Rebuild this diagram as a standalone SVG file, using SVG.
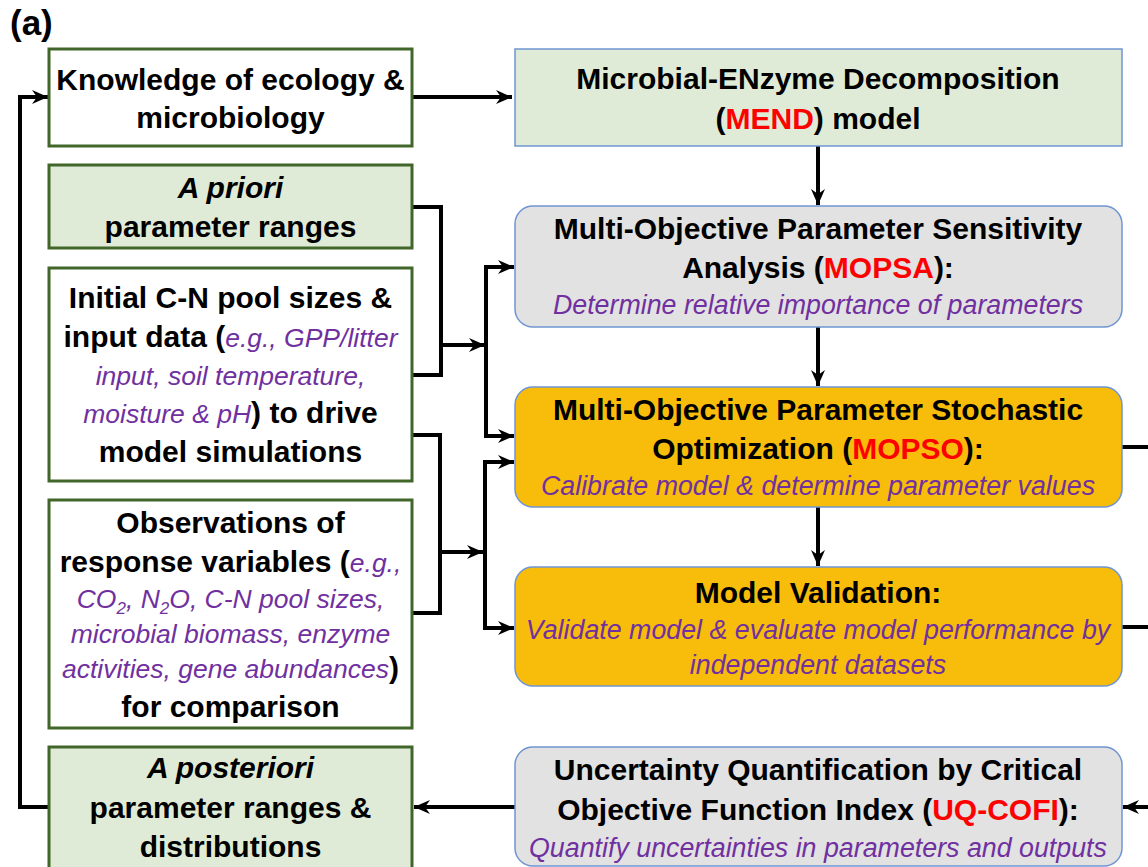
<svg xmlns="http://www.w3.org/2000/svg" width="1148" height="867" viewBox="0 0 1148 867">
<style>
text{font-family:"Liberation Sans",Arial,sans-serif;text-anchor:middle}
.b{font-weight:bold;font-size:30px;fill:#000}
.i{font-style:italic;font-weight:normal;font-size:26.5px;fill:#7030a0}
.bi{font-style:italic;font-weight:bold}
.r{fill:#ff0000}
.k{fill:#000;font-style:normal;font-weight:bold;font-size:30px}
.lg{fill:#ffffff;stroke:#41662a;stroke-width:3}
.lgg{fill:#dfebd6;stroke:#41662a;stroke-width:3}
.rb{stroke:#6f95d3;stroke-width:1.5}
.c{fill:none;stroke:#000;stroke-width:4}
</style>
<defs>
<marker id="ah" markerUnits="userSpaceOnUse" viewBox="0 0 16 14" refX="16" refY="7" markerWidth="16" markerHeight="14" orient="auto">
<path d="M0,0 L16,7 L0,14 L5,7 z" fill="#000"/>
</marker>
</defs>
<text x="10" y="35" style="text-anchor:start;font-weight:bold;font-size:35px">(a)</text>
<g id="connectors">
<path class="c" d="M413,97 H512" marker-end="url(#ah)"/>
<path class="c" d="M49,807 H20 V97 H48" marker-end="url(#ah)"/>
<path class="c" d="M818,146 V205" marker-end="url(#ah)"/>
<path class="c" d="M818,327 V386" marker-end="url(#ah)"/>
<path class="c" d="M818,507 V566" marker-end="url(#ah)"/>
<path class="c" d="M412,207 H441 V375 H412"/>
<path class="c" d="M441,345 H485" marker-end="url(#ah)"/>
<path class="c" d="M486,300 V267 H514" marker-end="url(#ah)"/>
<path class="c" d="M486,300 V436 H514" marker-end="url(#ah)"/>
<path class="c" d="M412,435 H440 V613 H412"/>
<path class="c" d="M440,552 H483" marker-end="url(#ah)"/>
<path class="c" d="M485,540 V462 H514" marker-end="url(#ah)"/>
<path class="c" d="M485,540 V628 H514" marker-end="url(#ah)"/>
<path class="c" d="M1122,447 H1150"/>
<path class="c" d="M1122,627 H1150"/>
<path class="c" d="M1150,807 H1123" marker-end="url(#ah)"/>
<path class="c" d="M515,807 H414" marker-end="url(#ah)"/>
</g>
<g id="knowledge">
<rect class="lg" x="49" y="49" width="363" height="97"/>
<text x="230.5" y="90" class="b">Knowledge of ecology &amp;</text>
<text x="230.5" y="128" class="b">microbiology</text>
</g>
<g id="apriori">
<rect class="lgg" x="49" y="165" width="363" height="83"/>
<text x="230.5" y="198" class="b bi">A priori</text>
<text x="230.5" y="237" class="b">parameter ranges</text>
</g>
<g id="initial">
<rect class="lg" x="49" y="268" width="363" height="213"/>
<text x="230.5" y="308" class="b">Initial C-N pool sizes &amp;</text>
<text x="230.5" y="347" class="b">input data (<tspan class="i">e.g., GPP/litter</tspan></text>
<text x="230.5" y="385" class="i">input, soil temperature,</text>
<text x="230.5" y="423" class="i">moisture &amp; pH<tspan class="k">) to drive</tspan></text>
<text x="230.5" y="462" class="b">model simulations</text>
</g>
<g id="observations">
<rect class="lg" x="49" y="500" width="363" height="228"/>
<text x="230.5" y="533" class="b">Observations of</text>
<text x="230.5" y="572" class="b">response variables (<tspan class="i">e.g.,</tspan></text>
<text x="230.5" y="608" class="i">CO<tspan font-size="17" dy="6">2</tspan><tspan dy="-6">, N</tspan><tspan font-size="17" dy="6">2</tspan><tspan dy="-6">O, C-N pool sizes,</tspan></text>
<text x="230.5" y="643" class="i">microbial biomass, enzyme</text>
<text x="230.5" y="678" class="i">activities, gene abundances<tspan class="k">)</tspan></text>
<text x="230.5" y="717" class="b">for comparison</text>
</g>
<g id="aposteriori">
<rect class="lgg" x="49" y="747" width="363" height="130"/>
<text x="230.5" y="778" class="b bi">A posteriori</text>
<text x="230.5" y="818" class="b">parameter ranges &amp;</text>
<text x="230.5" y="857" class="b">distributions</text>
</g>
<g id="mend">
<rect class="rb" x="515" y="49" width="607" height="97" fill="#dfebd6"/>
<text x="818" y="89" class="b">Microbial-ENzyme Decomposition</text>
<text x="818" y="129" class="b">(<tspan class="r">MEND</tspan>) model</text>
</g>
<g id="mopsa">
<rect class="rb" x="515" y="206" width="607" height="121" rx="18" fill="#e2e2e2"/>
<text x="818" y="239" class="b">Multi-Objective Parameter Sensitivity</text>
<text x="818" y="278" class="b">Analysis (<tspan class="r">MOPSA</tspan>):</text>
<text x="818" y="314" class="i" style="font-size:26.8px">Determine relative importance of parameters</text>
</g>
<g id="mopso">
<rect class="rb" x="515" y="387" width="607" height="120" rx="18" fill="#f8bd0a"/>
<text x="818" y="420" class="b">Multi-Objective Parameter Stochastic</text>
<text x="818" y="459" class="b">Optimization (<tspan class="r">MOPSO</tspan>):</text>
<text x="818" y="495" class="i" style="font-size:26.8px">Calibrate model &amp; determine parameter values</text>
</g>
<g id="validation">
<rect class="rb" x="515" y="567" width="607" height="119" rx="18" fill="#f8bd0a"/>
<text x="818" y="603" class="b">Model Validation:</text>
<text x="818" y="639" class="i" style="font-size:26.8px">Validate model &amp; evaluate model performance by</text>
<text x="818" y="674" class="i" style="font-size:26.8px">independent datasets</text>
</g>
<g id="uqcofi">
<rect class="rb" x="515" y="747" width="607" height="119" rx="18" fill="#e2e2e2"/>
<text x="818" y="780" class="b">Uncertainty Quantification by Critical</text>
<text x="818" y="820" class="b">Objective Function Index (<tspan class="r">UQ-COFI</tspan>):</text>
<text x="818" y="857" class="i" style="font-size:26.8px">Quantify uncertainties in parameters and outputs</text>
</g>
</svg>
